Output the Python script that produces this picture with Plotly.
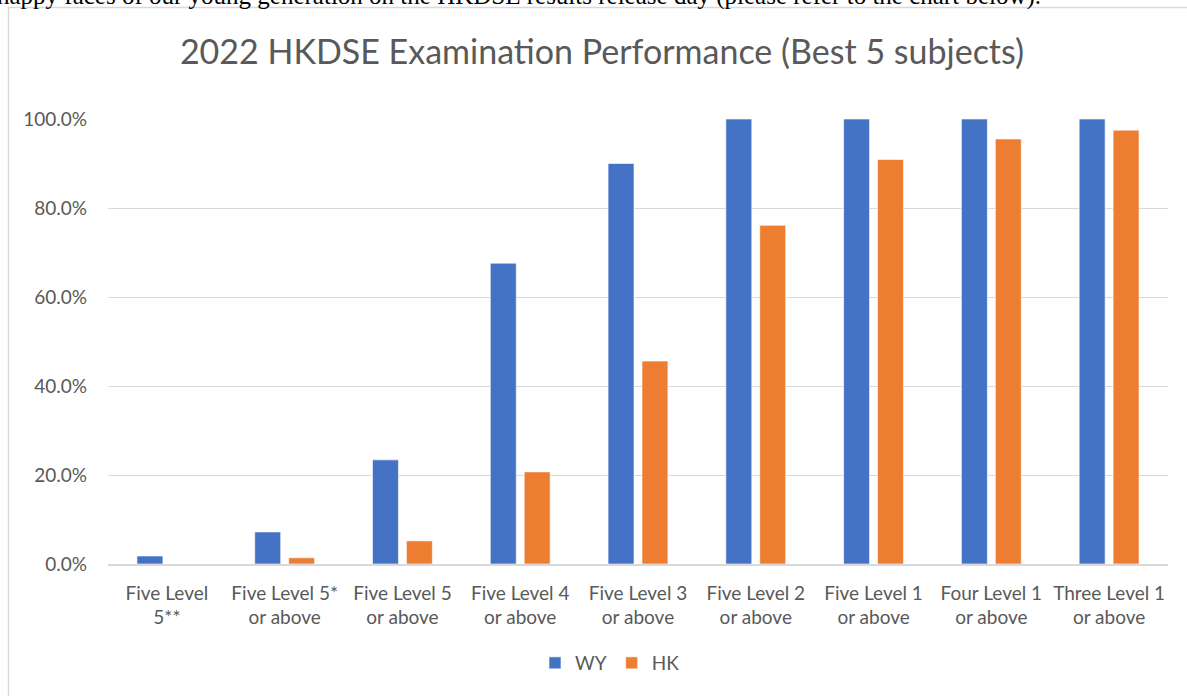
import plotly.graph_objects as go

categories = ["Five Level<br>5**", "Five Level 5*<br>or above", "Five Level 5<br>or above",
              "Five Level 4<br>or above", "Five Level 3<br>or above", "Five Level 2<br>or above",
              "Five Level 1<br>or above", "Four Level 1<br>or above", "Three Level 1<br>or above"]
wy = [0.018, 0.072, 0.234, 0.676, 0.900, 1.0, 1.0, 1.0, 1.0]
hk = [0.0, 0.014, 0.052, 0.207, 0.456, 0.761, 0.909, 0.955, 0.975]
y_ticks = [0, 0.2, 0.4, 0.6, 0.8, 1.0]

W, H = 1187, 696
L, R, T, B = 108, 1168, 119, 564


def px_x(x):
    return (x - L) / (R - L)


def px_y(y):
    return (B - y) / (B - T)


FONT = "Lato"
GREY = "#595959"

fig = go.Figure()
fig.add_trace(go.Bar(name="WY", x=categories, y=wy, marker=dict(color="#4472C4", line=dict(color="white", width=0.6))))
fig.add_trace(go.Bar(name="HK", x=categories, y=hk, marker=dict(color="#ED7D31", line=dict(color="white", width=0.6))))

fig.update_layout(
    width=W, height=H,
    margin=dict(l=L, r=W - R, t=T, b=H - B),
    paper_bgcolor="white", plot_bgcolor="white",
    barmode="group", bargap=0.424, bargroupgap=0.235,
    font=dict(family=FONT, color=GREY, size=19),
    title=dict(text="2022 HKDSE Examination Performance (Best 5 subjects)",
               x=px_x(602), xref="paper", xanchor="center",
               y=1 - 52 / H, yref="container", yanchor="middle",
               font=dict(family=FONT, size=34, color=GREY)),
    legend=dict(orientation="h", x=px_x(610), xanchor="center", y=px_y(663), yanchor="middle",
                font=dict(size=19, color=GREY), itemwidth=30, traceorder="normal"),
    showlegend=True,
)
fig.update_yaxes(range=[0, 1], tickvals=y_ticks, tickformat=".1%", showgrid=True,
                 gridcolor="#d9d9d9", gridwidth=1, zeroline=False, showline=False,
                 ticklabelstandoff=20, tickfont=dict(size=19, color=GREY))
fig.update_xaxes(showline=True, linecolor="#d9d9d9", linewidth=1.5, ticks="",
                 ticklabelstandoff=11, tickfont=dict(size=19, color=GREY), tickangle=0)

# chart frame (cropped screenshot of an embedded chart)
fig.add_shape(type="rect", xref="paper", yref="paper",
              x0=px_x(8.5), x1=px_x(1200), y0=px_y(710), y1=px_y(7.5),
              line=dict(color="#d9d9d9", width=1.5), fillcolor="rgba(0,0,0,0)", layer="above")

# cut-off line of page text above the chart
fig.add_annotation(text="happy faces of our young generation on the HKDSE results release day (please refer to the chart below).",
                   xref="paper", yref="paper", x=px_x(-5), xanchor="left",
                   y=px_y(-4), yanchor="middle", showarrow=False,
                   font=dict(family="Liberation Serif", size=25, color="black"))

fig.write_html("out.html", config={"displayModeBar": False},
               post_script="document.body.style.margin='0';document.body.style.padding='0';")
